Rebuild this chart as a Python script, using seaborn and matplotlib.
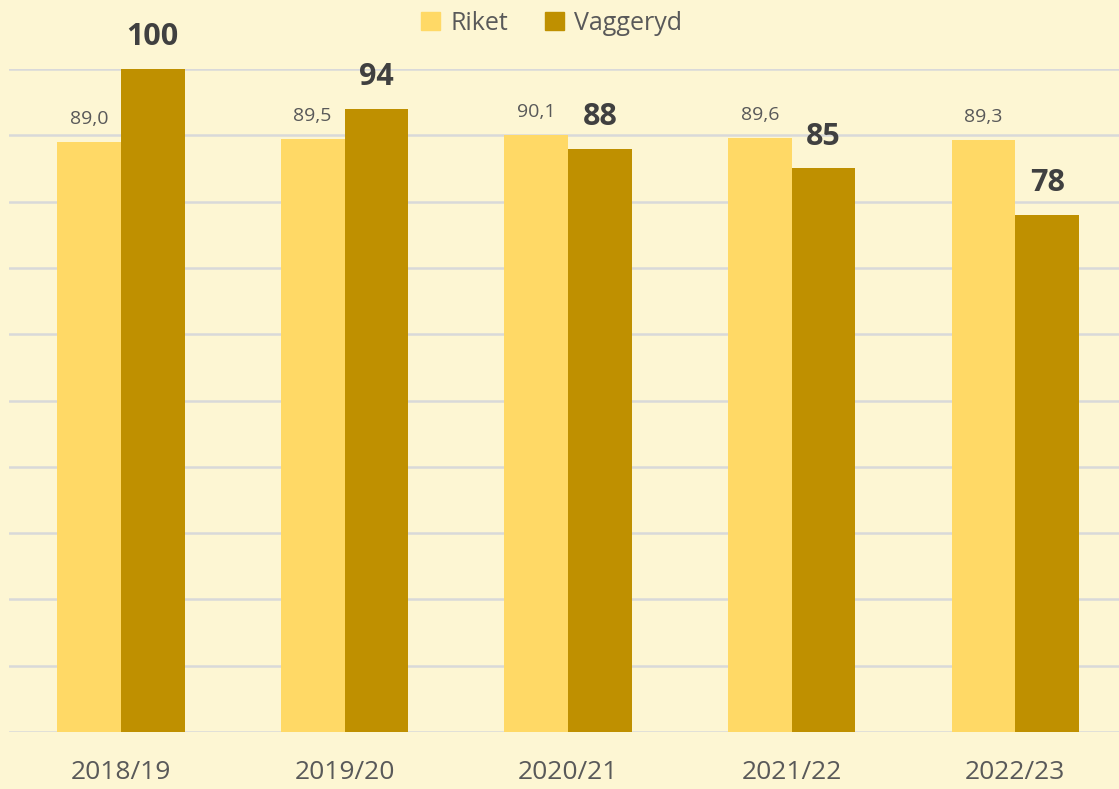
import matplotlib
matplotlib.use("Agg")
import matplotlib.pyplot as plt
import pandas as pd
import seaborn as sns

# Chart data
years = ["2018/19", "2019/20", "2020/21", "2021/22", "2022/23"]
riket = [89.0, 89.5, 90.1, 89.6, 89.3]
vaggeryd = [100, 94, 88, 85, 78]
series = ["Riket", "Vaggeryd"]
colors = ["#FFD966", "#BF9000"]

df = pd.DataFrame({
    "year": years * 2,
    "value": riket + vaggeryd,
    "series": [series[0]] * len(years) + [series[1]] * len(years),
})

bg = "#FDF6D3"
sns.set_style("white")
plt.rcParams["font.family"] = ["Open Sans", "DejaVu Sans"]

fig = plt.figure(figsize=(11.19, 7.89), dpi=100, facecolor=bg)
ax = fig.add_axes([0.0082, 0.0722, 0.999, 0.8403])
ax.set_facecolor(bg)

sns.barplot(data=df, x="year", y="value", hue="series", palette=colors,
            width=0.57, gap=0, saturation=1, ax=ax, legend=False,
            linewidth=0, edgecolor="none", zorder=3)

ax.set_ylim(0, 100)
ax.set_xlim(-0.5, 4.5)
ax.set_yticks(range(0, 101, 10))
ax.yaxis.grid(True, color="#D9D9D9", linewidth=1.8, zorder=0)
ax.set_axisbelow(True)
for s in ax.spines.values():
    s.set_visible(False)
ax.tick_params(axis="y", left=False, labelleft=False)
ax.tick_params(axis="x", length=0, pad=20, labelsize=19, labelcolor="#595959")
ax.set_xlabel("")
ax.set_ylabel("")

ax.bar_label(ax.containers[0],
             labels=[f"{v:.1f}".replace(".", ",") for v in riket],
             padding=10, fontsize=14, color="#595959")
ax.bar_label(ax.containers[1], labels=[str(v) for v in vaggeryd],
             padding=12, fontsize=22, fontweight="bold", color="#404040")

handles = [plt.Rectangle((0, 0), 1, 1, color=c) for c in colors]
fig.legend(handles, series, loc="upper center", bbox_to_anchor=(0.493, 1.015),
           ncol=2, frameon=False, fontsize=18, labelcolor="#595959",
           handlelength=0.75, handleheight=0.75, handletextpad=0.4,
           columnspacing=1.5)

fig.savefig("out.png", dpi=100, facecolor=bg)
